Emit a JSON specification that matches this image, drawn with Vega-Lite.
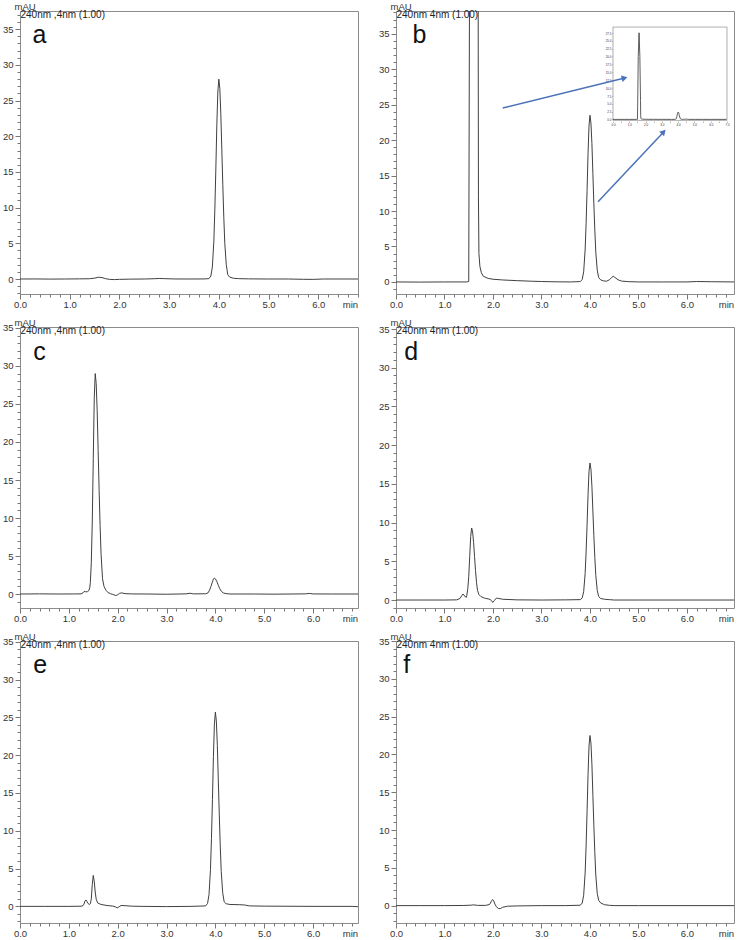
{
  "$schema": "https://vega.github.io/schema/vega-lite/v6.json",
  "background": "white",
  "padding": {"left": 1, "top": 0, "right": 2, "bottom": 0},
  "autosize": {"type": "pad"},
  "config": {
    "font": "Liberation Sans",
    "view": {"stroke": "#8c8c8c", "strokeWidth": 1},
    "axis": {"grid": false, "domain": false, "labelFont": "Liberation Sans", "labelFontSize": 9.5, "labelColor": "#333", "tickColor": "#777", "tickWidth": 1, "labelPadding": 2, "labelOverlap": false, "labelFlush": false, "titleFont": "Liberation Sans", "titleFontSize": 9.5, "titleFontWeight": "normal", "titleColor": "#333", "titlePadding": 0},
    "axisX": {"labelPadding": 0, "titleX": 330, "titleY": 5, "titleBaseline": "top", "titleAlign": "center"},
    "axisY": {"titleAngle": 0, "titleAlign": "left", "titleBaseline": "alphabetic", "titleX": -6, "titleY": -2}
  },
  "datasets": {
    "notes": [
      {"panel": "a", "chan": "240nm ,4nm (1.00)"},
      {"panel": "b", "chan": "240nm 4nm (1.00)"},
      {"panel": "c", "chan": "240nm ,4nm (1.00)"},
      {"panel": "d", "chan": "240nm 4nm (1.00)"},
      {"panel": "e", "chan": "240nm ,4nm (1.00)"},
      {"panel": "f", "chan": "240nm 4nm (1.00)"}
    ],
    "a": [
      {"t":0,"v":0},{"t":0.3,"v":0.01},{"t":0.6,"v":-0.01},{"t":0.9,"v":0},{"t":1.2,"v":0.02},{"t":1.4,"v":0.04},{"t":1.5,"v":0.12},{"t":1.58,"v":0.25},{"t":1.65,"v":0.2},{"t":1.72,"v":0.05},{"t":1.8,"v":-0.05},{"t":1.9,"v":-0.08},{"t":2.0,"v":-0.05},{"t":2.2,"v":-0.02},{"t":2.5,"v":0},{"t":2.7,"v":0.04},{"t":2.8,"v":0.08},{"t":2.9,"v":0.05},{"t":3.1,"v":0.01},{"t":3.4,"v":0},{"t":3.7,"v":0.01},{"t":3.8,"v":0.05},{"t":3.84,"v":0.42},{"t":3.87,"v":1.7},{"t":3.9,"v":5.3},{"t":3.92,"v":9.8},{"t":3.94,"v":15.4},{"t":3.96,"v":21.6},{"t":3.98,"v":26.2},{"t":4.0,"v":28.0},{"t":4.02,"v":26.7},{"t":4.04,"v":23.2},{"t":4.06,"v":18.2},{"t":4.08,"v":13.2},{"t":4.1,"v":8.7},{"t":4.12,"v":5.0},{"t":4.15,"v":2.0},{"t":4.18,"v":0.6},{"t":4.22,"v":0.25},{"t":4.3,"v":0.1},{"t":4.4,"v":0.05},{"t":4.6,"v":0.02},{"t":5.0,"v":0},{"t":5.4,"v":0},{"t":5.7,"v":-0.04},{"t":5.9,"v":-0.05},{"t":6.1,"v":0},{"t":6.5,"v":0},{"t":6.8,"v":0}
    ],
    "b": [
      {"t":0,"v":0},{"t":0.5,"v":-0.02},{"t":1.0,"v":0},{"t":1.3,"v":0},{"t":1.45,"v":0},{"t":1.5,"v":0.05},{"t":1.515,"v":40},{"t":1.55,"v":200},{"t":1.6,"v":275},{"t":1.65,"v":200},{"t":1.69,"v":60},{"t":1.7,"v":12},{"t":1.71,"v":4},{"t":1.73,"v":2.2},{"t":1.76,"v":1.3},{"t":1.8,"v":0.8},{"t":1.9,"v":0.5},{"t":2.0,"v":0.38},{"t":2.2,"v":0.28},{"t":2.5,"v":0.18},{"t":2.8,"v":0.1},{"t":3.0,"v":0.06},{"t":3.3,"v":0.02},{"t":3.6,"v":0},{"t":3.8,"v":0.05},{"t":3.84,"v":0.35},{"t":3.87,"v":1.43},{"t":3.9,"v":4.5},{"t":3.92,"v":8.2},{"t":3.94,"v":12.9},{"t":3.96,"v":18.1},{"t":3.98,"v":22.0},{"t":4.0,"v":23.5},{"t":4.02,"v":22.4},{"t":4.04,"v":19.5},{"t":4.06,"v":15.3},{"t":4.08,"v":11.0},{"t":4.1,"v":7.3},{"t":4.12,"v":4.2},{"t":4.15,"v":1.65},{"t":4.18,"v":0.6},{"t":4.22,"v":0.3},{"t":4.28,"v":0.15},{"t":4.34,"v":0.1},{"t":4.4,"v":0.3},{"t":4.45,"v":0.65},{"t":4.48,"v":0.8},{"t":4.52,"v":0.6},{"t":4.58,"v":0.3},{"t":4.65,"v":0.12},{"t":4.8,"v":0.04},{"t":5.0,"v":0},{"t":5.5,"v":0},{"t":6.0,"v":0},{"t":6.2,"v":0.06},{"t":6.5,"v":0.03},{"t":6.97,"v":0}
    ],
    "c": [
      {"t":0,"v":0},{"t":0.4,"v":0.02},{"t":0.8,"v":0},{"t":1.1,"v":0.01},{"t":1.25,"v":0.02},{"t":1.29,"v":0.15},{"t":1.31,"v":0.33},{"t":1.34,"v":0.3},{"t":1.38,"v":0.3},{"t":1.41,"v":0.45},{"t":1.43,"v":0.9},{"t":1.44,"v":1.5},{"t":1.46,"v":4.1},{"t":1.48,"v":9.6},{"t":1.5,"v":17.8},{"t":1.52,"v":25.7},{"t":1.54,"v":29.0},{"t":1.56,"v":27.7},{"t":1.58,"v":24.1},{"t":1.6,"v":18.9},{"t":1.62,"v":13.6},{"t":1.64,"v":9.0},{"t":1.66,"v":5.2},{"t":1.69,"v":2.0},{"t":1.72,"v":1.0},{"t":1.76,"v":0.5},{"t":1.8,"v":0.2},{"t":1.85,"v":0.05},{"t":1.9,"v":-0.05},{"t":1.96,"v":-0.2},{"t":2.0,"v":-0.1},{"t":2.04,"v":0.1},{"t":2.08,"v":0.15},{"t":2.15,"v":0.05},{"t":2.3,"v":0.01},{"t":2.6,"v":0},{"t":3.0,"v":-0.03},{"t":3.4,"v":0.02},{"t":3.48,"v":0.1},{"t":3.55,"v":0.02},{"t":3.8,"v":0.03},{"t":3.85,"v":0.15},{"t":3.88,"v":0.5},{"t":3.91,"v":1.0},{"t":3.94,"v":1.6},{"t":3.96,"v":1.95},{"t":3.98,"v":2.1},{"t":4.0,"v":2.0},{"t":4.03,"v":1.65},{"t":4.06,"v":1.15},{"t":4.09,"v":0.7},{"t":4.12,"v":0.38},{"t":4.16,"v":0.15},{"t":4.22,"v":0.05},{"t":4.3,"v":0},{"t":4.8,"v":0},{"t":5.2,"v":-0.02},{"t":5.85,"v":0.02},{"t":5.92,"v":0.08},{"t":6.0,"v":0.01},{"t":6.4,"v":0},{"t":6.92,"v":0}
    ],
    "d": [
      {"t":0,"v":0},{"t":0.5,"v":0},{"t":1.0,"v":0},{"t":1.25,"v":0.02},{"t":1.32,"v":0.2},{"t":1.36,"v":0.6},{"t":1.38,"v":0.78},{"t":1.4,"v":0.65},{"t":1.43,"v":0.4},{"t":1.45,"v":0.35},{"t":1.46,"v":0.6},{"t":1.48,"v":1.45},{"t":1.5,"v":3.0},{"t":1.52,"v":5.6},{"t":1.54,"v":8.2},{"t":1.56,"v":9.3},{"t":1.58,"v":8.8},{"t":1.6,"v":7.45},{"t":1.62,"v":5.6},{"t":1.64,"v":3.8},{"t":1.66,"v":2.3},{"t":1.68,"v":1.26},{"t":1.71,"v":0.7},{"t":1.75,"v":0.45},{"t":1.8,"v":0.3},{"t":1.85,"v":0.2},{"t":1.9,"v":0.15},{"t":1.95,"v":0.05},{"t":1.98,"v":-0.2},{"t":2.0,"v":-0.3},{"t":2.03,"v":-0.05},{"t":2.07,"v":0.25},{"t":2.12,"v":0.2},{"t":2.2,"v":0.1},{"t":2.5,"v":0.02},{"t":3.0,"v":0},{"t":3.5,"v":0.02},{"t":3.8,"v":0.05},{"t":3.84,"v":0.27},{"t":3.87,"v":1.08},{"t":3.9,"v":3.4},{"t":3.92,"v":6.2},{"t":3.94,"v":9.7},{"t":3.96,"v":13.6},{"t":3.98,"v":16.6},{"t":4.0,"v":17.7},{"t":4.02,"v":16.9},{"t":4.04,"v":14.7},{"t":4.06,"v":11.5},{"t":4.08,"v":8.3},{"t":4.1,"v":5.5},{"t":4.12,"v":3.2},{"t":4.15,"v":1.24},{"t":4.18,"v":0.45},{"t":4.22,"v":0.2},{"t":4.3,"v":0.1},{"t":4.4,"v":0.05},{"t":4.5,"v":0},{"t":5.0,"v":0},{"t":6.0,"v":0},{"t":6.97,"v":0}
    ],
    "e": [
      {"t":0,"v":0},{"t":0.5,"v":0},{"t":1.0,"v":0},{"t":1.25,"v":0.02},{"t":1.29,"v":0.1},{"t":1.31,"v":0.3},{"t":1.33,"v":0.7},{"t":1.35,"v":0.85},{"t":1.37,"v":0.65},{"t":1.39,"v":0.4},{"t":1.42,"v":0.25},{"t":1.44,"v":0.35},{"t":1.46,"v":1.0},{"t":1.48,"v":2.9},{"t":1.5,"v":4.1},{"t":1.52,"v":3.3},{"t":1.54,"v":1.9},{"t":1.56,"v":0.95},{"t":1.59,"v":0.45},{"t":1.64,"v":0.3},{"t":1.7,"v":0.2},{"t":1.8,"v":0.1},{"t":1.9,"v":0.04},{"t":1.95,"v":-0.05},{"t":1.99,"v":-0.2},{"t":2.03,"v":-0.05},{"t":2.07,"v":0.12},{"t":2.13,"v":0.1},{"t":2.3,"v":0.02},{"t":2.5,"v":0},{"t":3.0,"v":-0.03},{"t":3.5,"v":0},{"t":3.8,"v":0.06},{"t":3.84,"v":0.39},{"t":3.87,"v":1.57},{"t":3.9,"v":4.9},{"t":3.92,"v":9.0},{"t":3.94,"v":14.1},{"t":3.96,"v":19.8},{"t":3.98,"v":24.1},{"t":4.0,"v":25.7},{"t":4.02,"v":24.5},{"t":4.04,"v":21.3},{"t":4.06,"v":16.7},{"t":4.08,"v":12.1},{"t":4.1,"v":8.0},{"t":4.12,"v":4.6},{"t":4.15,"v":1.8},{"t":4.18,"v":0.6},{"t":4.22,"v":0.35},{"t":4.3,"v":0.25},{"t":4.5,"v":0.22},{"t":4.6,"v":0.18},{"t":4.7,"v":0.06},{"t":5.0,"v":0.03},{"t":6.0,"v":0},{"t":6.8,"v":0},{"t":6.92,"v":-0.05}
    ],
    "f": [
      {"t":0,"v":0},{"t":0.5,"v":0},{"t":1.0,"v":0},{"t":1.4,"v":0.02},{"t":1.55,"v":0.06},{"t":1.6,"v":0.1},{"t":1.68,"v":0.03},{"t":1.85,"v":0.03},{"t":1.93,"v":0.15},{"t":1.96,"v":0.5},{"t":1.99,"v":0.8},{"t":2.01,"v":0.7},{"t":2.04,"v":0.2},{"t":2.07,"v":-0.15},{"t":2.11,"v":-0.38},{"t":2.15,"v":-0.4},{"t":2.2,"v":-0.22},{"t":2.3,"v":-0.08},{"t":2.5,"v":-0.04},{"t":3.0,"v":0},{"t":3.5,"v":0},{"t":3.8,"v":0.05},{"t":3.84,"v":0.34},{"t":3.87,"v":1.37},{"t":3.9,"v":4.3},{"t":3.92,"v":7.9},{"t":3.94,"v":12.4},{"t":3.96,"v":17.3},{"t":3.98,"v":21.1},{"t":4.0,"v":22.5},{"t":4.02,"v":21.5},{"t":4.04,"v":18.7},{"t":4.06,"v":14.6},{"t":4.08,"v":10.6},{"t":4.1,"v":7.0},{"t":4.12,"v":4.05},{"t":4.15,"v":1.6},{"t":4.18,"v":0.7},{"t":4.22,"v":0.35},{"t":4.3,"v":0.12},{"t":4.4,"v":0.04},{"t":4.5,"v":0},{"t":5.0,"v":0},{"t":6.0,"v":0},{"t":6.97,"v":0}
    ]
  },
  "columns": 2,
  "spacing": {"row": 33, "column": 38},
  "bounds": "flush",
  "align": "each",
  "concat": [
    {
      "width": 338, "height": 283, "data": {"name": "a"},
      "layer": [
        {"mark": {"type": "line", "color": "#404040", "strokeWidth": 1, "clip": true},
         "encoding": {
           "x": {"field": "t", "type": "quantitative", "scale": {"domain": [0, 6.8], "nice": false, "zero": false},
                 "axis": {"orient": "bottom", "title": "min", "tickCount": 500, "labelOverlap": false, "values": [0,0.2,0.4,0.6,0.8,1,1.2,1.4,1.6,1.8,2,2.2,2.4,2.6,2.8,3,3.2,3.4,3.6,3.8,4,4.2,4.4,4.6,4.8,5,5.2,5.4,5.6,5.8,6,6.2,6.4,6.6,6.8], "labelExpr": "abs(datum.value - round(datum.value)) < 0.001 && datum.value < 6.5 ? format(datum.value, '.1f') : ''", "tickSize": {"condition": {"test": "abs(datum.value - round(datum.value)) < 0.001", "value": 5}, "value": 3}}},
           "y": {"field": "v", "type": "quantitative", "scale": {"domain": [-2.1, 37.55], "nice": false, "zero": false},
                 "axis": {"orient": "left", "title": "mAU", "tickCount": 500, "labelOverlap": false, "values": [-2,-1,0,1,2,3,4,5,6,7,8,9,10,11,12,13,14,15,16,17,18,19,20,21,22,23,24,25,26,27,28,29,30,31,32,33,34,35,36,37], "labelExpr": "datum.value % 5 == 0 && datum.value >= 0 ? format(datum.value, 'd') : ''", "tickSize": {"condition": {"test": "datum.value % 5 == 0", "value": 5}, "value": 3}}}}},
        {"data": {"name": "notes"}, "transform": [{"filter": "datum.panel == 'a'"}],
         "mark": {"type": "text", "align": "left", "baseline": "alphabetic", "fontSize": 10, "color": "#222"},
         "encoding": {"x": {"datum": 0.01}, "y": {"datum": 36.56}, "text": {"field": "chan"}}},
        {"data": {"name": "notes"}, "transform": [{"filter": "datum.panel == 'a'"}],
         "mark": {"type": "text", "align": "left", "baseline": "alphabetic", "fontSize": 25, "color": "#111"},
         "encoding": {"x": {"datum": 0.25}, "y": {"datum": 33.0}, "text": {"field": "panel"}}}
      ]
    },
    {
      "width": 338, "height": 283, "data": {"name": "b"},
      "layer": [
        {
          "layer": [
            {"data": {"values": [{}]},
             "mark": {"type": "rect", "fill": "white", "stroke": "#999", "strokeWidth": 0.8},
             "encoding": {"x": {"datum": 0}, "x2": {"datum": 7.0}, "y": {"datum": -3.19}, "y2": {"datum": 293.2}}},
            {"mark": {"type": "line", "color": "#333", "strokeWidth": 0.8},
             "encoding": {
               "x": {"field": "t", "type": "quantitative", "scale": {"domain": [-13.324, 7.43], "nice": false, "zero": false},
                     "axis": {"orient": "bottom", "offset": -173, "title": null, "tickCount": 500, "labelOverlap": false, "values": [0,0.5,1,1.5,2,2.5,3,3.5,4,4.5,5,5.5,6,6.5,7], "labelExpr": "abs(datum.value - round(datum.value)) < 0.001 ? format(datum.value, '.1f') : ''", "tickSize": 1.5, "tickWidth": 0.5, "labelFontSize": 3, "labelPadding": 0.5}},
               "y": {"field": "v", "type": "quantitative", "scale": {"domain": [-554.5, 344.2], "nice": false, "zero": false},
                     "axis": {"orient": "left", "offset": -217, "title": null, "tickCount": 500, "labelOverlap": false, "values": [0,25,50,75,100,125,150,175,200,225,250,275], "labelExpr": "format(datum.value / 10, '.1f')", "tickSize": 1.5, "tickWidth": 0.5, "labelFontSize": 3, "labelPadding": 0.5}}}}
          ]
        },
        {
          "layer": [
            {"mark": {"type": "line", "color": "#404040", "strokeWidth": 1, "clip": true},
             "encoding": {
               "x": {"field": "t", "type": "quantitative", "scale": {"domain": [0, 6.97], "nice": false, "zero": false},
                     "axis": {"orient": "bottom", "title": "min", "tickCount": 500, "labelOverlap": false, "values": [0,0.2,0.4,0.6,0.8,1,1.2,1.4,1.6,1.8,2,2.2,2.4,2.6,2.8,3,3.2,3.4,3.6,3.8,4,4.2,4.4,4.6,4.8,5,5.2,5.4,5.6,5.8,6,6.2,6.4,6.6,6.8], "labelExpr": "abs(datum.value - round(datum.value)) < 0.001 && datum.value < 6.5 ? format(datum.value, '.1f') : ''", "tickSize": {"condition": {"test": "abs(datum.value - round(datum.value)) < 0.001", "value": 5}, "value": 3}}},
               "y": {"field": "v", "type": "quantitative", "scale": {"domain": [-1.7, 38.2], "nice": false, "zero": false},
                     "axis": {"orient": "left", "title": "mAU", "tickCount": 500, "labelOverlap": false, "values": [-1,0,1,2,3,4,5,6,7,8,9,10,11,12,13,14,15,16,17,18,19,20,21,22,23,24,25,26,27,28,29,30,31,32,33,34,35,36,37,38], "labelExpr": "datum.value % 5 == 0 && datum.value >= 0 ? format(datum.value, 'd') : ''", "tickSize": {"condition": {"test": "datum.value % 5 == 0", "value": 5}, "value": 3}}}}},
            {"data": {"name": "notes"}, "transform": [{"filter": "datum.panel == 'b'"}],
             "mark": {"type": "text", "align": "left", "baseline": "alphabetic", "fontSize": 10, "color": "#222"},
             "encoding": {"x": {"datum": 0.01}, "y": {"datum": 37.21}, "text": {"field": "chan"}}},
            {"data": {"name": "notes"}, "transform": [{"filter": "datum.panel == 'b'"}],
             "mark": {"type": "text", "align": "left", "baseline": "alphabetic", "fontSize": 25, "color": "#111"},
             "encoding": {"x": {"datum": 0.34}, "y": {"datum": 33.67}, "text": {"field": "panel"}}},
            {"data": {"values": [{}]}, "mark": {"type": "rule", "color": "#4a72b8", "strokeWidth": 1.5},
             "encoding": {"x": {"datum": 2.2}, "y": {"datum": 24.52}, "x2": {"datum": 4.714}, "y2": {"datum": 28.75}}},
            {"data": {"values": [{}]}, "mark": {"type": "point", "shape": "triangle-up", "filled": true, "color": "#4a72b8", "opacity": 1, "size": 45, "angle": 76},
             "encoding": {"x": {"datum": 4.714}, "y": {"datum": 28.75}}},
            {"data": {"values": [{}]}, "mark": {"type": "rule", "color": "#4a72b8", "strokeWidth": 1.5},
             "encoding": {"x": {"datum": 4.166}, "y": {"datum": 11.32}, "x2": {"datum": 5.519}, "y2": {"datum": 21.15}}},
            {"data": {"values": [{}]}, "mark": {"type": "point", "shape": "triangle-up", "filled": true, "color": "#4a72b8", "opacity": 1, "size": 45, "angle": 43},
             "encoding": {"x": {"datum": 5.519}, "y": {"datum": 21.15}}}
          ]
        }
      ],
      "resolve": {"scale": {"x": "independent", "y": "independent"}, "axis": {"x": "independent", "y": "independent"}}
    },
    {
      "width": 338, "height": 281, "data": {"name": "c"},
      "layer": [
        {"mark": {"type": "line", "color": "#404040", "strokeWidth": 1, "clip": true},
         "encoding": {
           "x": {"field": "t", "type": "quantitative", "scale": {"domain": [0, 6.92], "nice": false, "zero": false},
                 "axis": {"orient": "bottom", "title": "min", "tickCount": 500, "labelOverlap": false, "values": [0,0.2,0.4,0.6,0.8,1,1.2,1.4,1.6,1.8,2,2.2,2.4,2.6,2.8,3,3.2,3.4,3.6,3.8,4,4.2,4.4,4.6,4.8,5,5.2,5.4,5.6,5.8,6,6.2,6.4,6.6,6.8], "labelExpr": "abs(datum.value - round(datum.value)) < 0.001 && datum.value < 6.5 ? format(datum.value, '.1f') : ''", "tickSize": {"condition": {"test": "abs(datum.value - round(datum.value)) < 0.001", "value": 5}, "value": 3}}},
           "y": {"field": "v", "type": "quantitative", "scale": {"domain": [-1.84, 35.13], "nice": false, "zero": false},
                 "axis": {"orient": "left", "title": "mAU", "tickCount": 500, "labelOverlap": false, "values": [-1,0,1,2,3,4,5,6,7,8,9,10,11,12,13,14,15,16,17,18,19,20,21,22,23,24,25,26,27,28,29,30,31,32,33,34,35], "labelExpr": "datum.value % 5 == 0 && datum.value >= 0 ? format(datum.value, 'd') : ''", "tickSize": {"condition": {"test": "datum.value % 5 == 0", "value": 5}, "value": 3}}}}},
        {"data": {"name": "notes"}, "transform": [{"filter": "datum.panel == 'c'"}],
         "mark": {"type": "text", "align": "left", "baseline": "alphabetic", "fontSize": 10, "color": "#222"},
         "encoding": {"x": {"datum": 0.01}, "y": {"datum": 34.21}, "text": {"field": "chan"}}},
        {"data": {"name": "notes"}, "transform": [{"filter": "datum.panel == 'c'"}],
         "mark": {"type": "text", "align": "left", "baseline": "alphabetic", "fontSize": 25, "color": "#111"},
         "encoding": {"x": {"datum": 0.27}, "y": {"datum": 30.85}, "text": {"field": "panel"}}}
      ]
    },
    {
      "width": 338, "height": 281, "data": {"name": "d"},
      "layer": [
        {"mark": {"type": "line", "color": "#404040", "strokeWidth": 1, "clip": true},
         "encoding": {
           "x": {"field": "t", "type": "quantitative", "scale": {"domain": [0, 6.97], "nice": false, "zero": false},
                 "axis": {"orient": "bottom", "title": "min", "tickCount": 500, "labelOverlap": false, "values": [0,0.2,0.4,0.6,0.8,1,1.2,1.4,1.6,1.8,2,2.2,2.4,2.6,2.8,3,3.2,3.4,3.6,3.8,4,4.2,4.4,4.6,4.8,5,5.2,5.4,5.6,5.8,6,6.2,6.4,6.6,6.8], "labelExpr": "abs(datum.value - round(datum.value)) < 0.001 && datum.value < 6.5 ? format(datum.value, '.1f') : ''", "tickSize": {"condition": {"test": "abs(datum.value - round(datum.value)) < 0.001", "value": 5}, "value": 3}}},
           "y": {"field": "v", "type": "quantitative", "scale": {"domain": [-1.03, 35.26], "nice": false, "zero": false},
                 "axis": {"orient": "left", "title": "mAU", "tickCount": 500, "labelOverlap": false, "values": [-1,0,1,2,3,4,5,6,7,8,9,10,11,12,13,14,15,16,17,18,19,20,21,22,23,24,25,26,27,28,29,30,31,32,33,34,35], "labelExpr": "datum.value % 5 == 0 && datum.value >= 0 ? format(datum.value, 'd') : ''", "tickSize": {"condition": {"test": "datum.value % 5 == 0", "value": 5}, "value": 3}}}}},
        {"data": {"name": "notes"}, "transform": [{"filter": "datum.panel == 'd'"}],
         "mark": {"type": "text", "align": "left", "baseline": "alphabetic", "fontSize": 10, "color": "#222"},
         "encoding": {"x": {"datum": 0.01}, "y": {"datum": 34.36}, "text": {"field": "chan"}}},
        {"data": {"name": "notes"}, "transform": [{"filter": "datum.panel == 'd'"}],
         "mark": {"type": "text", "align": "left", "baseline": "alphabetic", "fontSize": 25, "color": "#111"},
         "encoding": {"x": {"datum": 0.17}, "y": {"datum": 31.06}, "text": {"field": "panel"}}}
      ]
    },
    {
      "width": 338, "height": 282, "data": {"name": "e"},
      "layer": [
        {"mark": {"type": "line", "color": "#404040", "strokeWidth": 1, "clip": true},
         "encoding": {
           "x": {"field": "t", "type": "quantitative", "scale": {"domain": [0, 6.92], "nice": false, "zero": false},
                 "axis": {"orient": "bottom", "title": "min", "tickCount": 500, "labelOverlap": false, "values": [0,0.2,0.4,0.6,0.8,1,1.2,1.4,1.6,1.8,2,2.2,2.4,2.6,2.8,3,3.2,3.4,3.6,3.8,4,4.2,4.4,4.6,4.8,5,5.2,5.4,5.6,5.8,6,6.2,6.4,6.6,6.8], "labelExpr": "abs(datum.value - round(datum.value)) < 0.001 && datum.value < 6.5 ? format(datum.value, '.1f') : ''", "tickSize": {"condition": {"test": "abs(datum.value - round(datum.value)) < 0.001", "value": 5}, "value": 3}}},
           "y": {"field": "v", "type": "quantitative", "scale": {"domain": [-2.2, 35.1], "nice": false, "zero": false},
                 "axis": {"orient": "left", "title": "mAU", "tickCount": 500, "labelOverlap": false, "values": [-2,-1,0,1,2,3,4,5,6,7,8,9,10,11,12,13,14,15,16,17,18,19,20,21,22,23,24,25,26,27,28,29,30,31,32,33,34,35], "labelExpr": "datum.value % 5 == 0 && datum.value >= 0 ? format(datum.value, 'd') : ''", "tickSize": {"condition": {"test": "datum.value % 5 == 0", "value": 5}, "value": 3}}}}},
        {"data": {"name": "notes"}, "transform": [{"filter": "datum.panel == 'e'"}],
         "mark": {"type": "text", "align": "left", "baseline": "alphabetic", "fontSize": 10, "color": "#222"},
         "encoding": {"x": {"datum": 0.01}, "y": {"datum": 34.18}, "text": {"field": "chan"}}},
        {"data": {"name": "notes"}, "transform": [{"filter": "datum.panel == 'e'"}],
         "mark": {"type": "text", "align": "left", "baseline": "alphabetic", "fontSize": 25, "color": "#111"},
         "encoding": {"x": {"datum": 0.27}, "y": {"datum": 30.83}, "text": {"field": "panel"}}}
      ]
    },
    {
      "width": 338, "height": 282, "data": {"name": "f"},
      "layer": [
        {"mark": {"type": "line", "color": "#404040", "strokeWidth": 1, "clip": true},
         "encoding": {
           "x": {"field": "t", "type": "quantitative", "scale": {"domain": [0, 6.97], "nice": false, "zero": false},
                 "axis": {"orient": "bottom", "title": "min", "tickCount": 500, "labelOverlap": false, "values": [0,0.2,0.4,0.6,0.8,1,1.2,1.4,1.6,1.8,2,2.2,2.4,2.6,2.8,3,3.2,3.4,3.6,3.8,4,4.2,4.4,4.6,4.8,5,5.2,5.4,5.6,5.8,6,6.2,6.4,6.6,6.8], "labelExpr": "abs(datum.value - round(datum.value)) < 0.001 && datum.value < 6.5 ? format(datum.value, '.1f') : ''", "tickSize": {"condition": {"test": "abs(datum.value - round(datum.value)) < 0.001", "value": 5}, "value": 3}}},
           "y": {"field": "v", "type": "quantitative", "scale": {"domain": [-2.3, 35.0], "nice": false, "zero": false},
                 "axis": {"orient": "left", "title": "mAU", "tickCount": 500, "labelOverlap": false, "values": [-2,-1,0,1,2,3,4,5,6,7,8,9,10,11,12,13,14,15,16,17,18,19,20,21,22,23,24,25,26,27,28,29,30,31,32,33,34,35], "labelExpr": "datum.value % 5 == 0 && datum.value >= 0 ? format(datum.value, 'd') : ''", "tickSize": {"condition": {"test": "datum.value % 5 == 0", "value": 5}, "value": 3}}}}},
        {"data": {"name": "notes"}, "transform": [{"filter": "datum.panel == 'f'"}],
         "mark": {"type": "text", "align": "left", "baseline": "alphabetic", "fontSize": 10, "color": "#222"},
         "encoding": {"x": {"datum": 0.01}, "y": {"datum": 34.08}, "text": {"field": "chan"}}},
        {"data": {"name": "notes"}, "transform": [{"filter": "datum.panel == 'f'"}],
         "mark": {"type": "text", "align": "left", "baseline": "alphabetic", "fontSize": 25, "color": "#111"},
         "encoding": {"x": {"datum": 0.15}, "y": {"datum": 30.73}, "text": {"field": "panel"}}}
      ]
    }
  ]
}
